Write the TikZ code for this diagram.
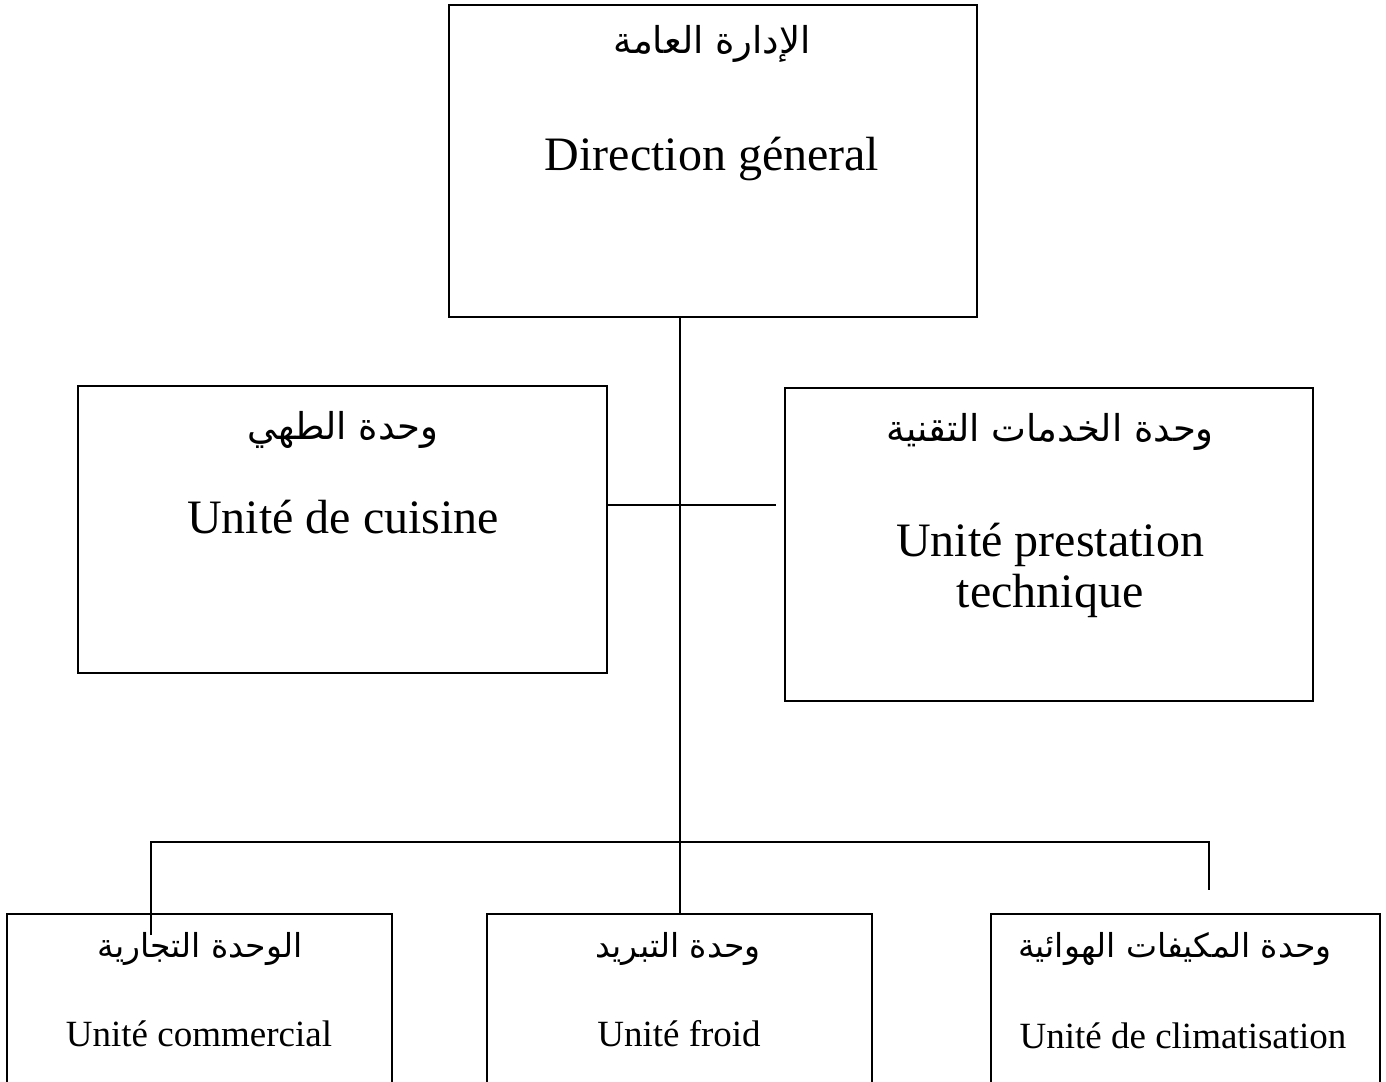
\documentclass[tikz,border=0pt]{standalone}
\usepackage{fontspec}
\setmainfont{Liberation Serif}
\newfontfamily\arabicfont[Script=Arabic]{DejaVu Sans}
\TeXXeTstate=1
\begin{document}
\begin{tikzpicture}[x=1pt,y=-1pt,
  box/.style={draw,line width=1.6pt,rectangle,anchor=north west,inner sep=0pt,outer sep=0pt},
  conn/.style={line width=1.6pt},
  ar/.style={font=\arabicfont\fontsize{37}{44}\selectfont,inner sep=0pt},
  arsmall/.style={font=\arabicfont\fontsize{33}{40}\selectfont,inner sep=0pt},
  lat/.style={font=\fontsize{48}{54}\selectfont,inner sep=0pt,anchor=base},
  latsmall/.style={font=\fontsize{37}{44}\selectfont,inner sep=0pt,anchor=base}]
\useasboundingbox (0,0) rectangle (1386,1081);
\clip (0,0) rectangle (1386,1081);
% boxes
\node[box,minimum width=528pt,minimum height=312pt] (dg) at (449,5) {};
\node[box,minimum width=529pt,minimum height=287pt] (cuis) at (78,386) {};
\node[box,minimum width=528pt,minimum height=313pt] (tech) at (785,388) {};
\node[box,minimum width=385pt,minimum height=200pt] (comm) at (7,914) {};
\node[box,minimum width=385pt,minimum height=200pt] (froid) at (487,914) {};
\node[box,minimum width=389pt,minimum height=200pt] (clim) at (991,914) {};
% texts
\node[ar] (t1a) at (712,44) {\beginR الإدارة العامة\endR};
\node[lat] (t1b) at (712,170) {Direction géneral};
\node[ar] (t2a) at (343,430) {\beginR وحدة الطهي\endR};
\node[lat] (t2b) at (343,533) {Unité de cuisine};
\node[ar] (t3a) at (1050,432) {\beginR وحدة الخدمات التقنية\endR};
\node[lat] (t3b) at (1050,556) {Unité prestation};
\node[lat] (t3c) at (1050,607) {technique};
\node[arsmall] (t4a) at (200,949) {\beginR الوحدة التجارية\endR};
\node[latsmall] (t4b) at (199,1046) {Unité commercial};
\node[arsmall] (t5a) at (678,949) {\beginR وحدة التبريد\endR};
\node[latsmall] (t5b) at (679,1046) {Unité froid};
\node[arsmall] (t6a) at (1175,949) {\beginR وحدة المكيفات الهوائية\endR};
\node[latsmall] (t6b) at (1183,1048) {Unité de climatisation};
% connector points
\coordinate (trunkTop) at (680,316);
\coordinate (trunkBot) at (680,914);
\coordinate (cuisR) at (607,505);
\coordinate (techL) at (776,505);
\coordinate (hL) at (151,842);
\coordinate (hR) at (1209,842);
\coordinate (dropL) at (151,935);
\coordinate (dropR) at (1209,890);
\draw[conn] (trunkTop) -- (trunkBot);
\draw[conn] (cuisR) -- (techL);
\draw[conn] (dropL) -- (hL) -- (hR) -- (dropR);
\end{tikzpicture}
\end{document}
